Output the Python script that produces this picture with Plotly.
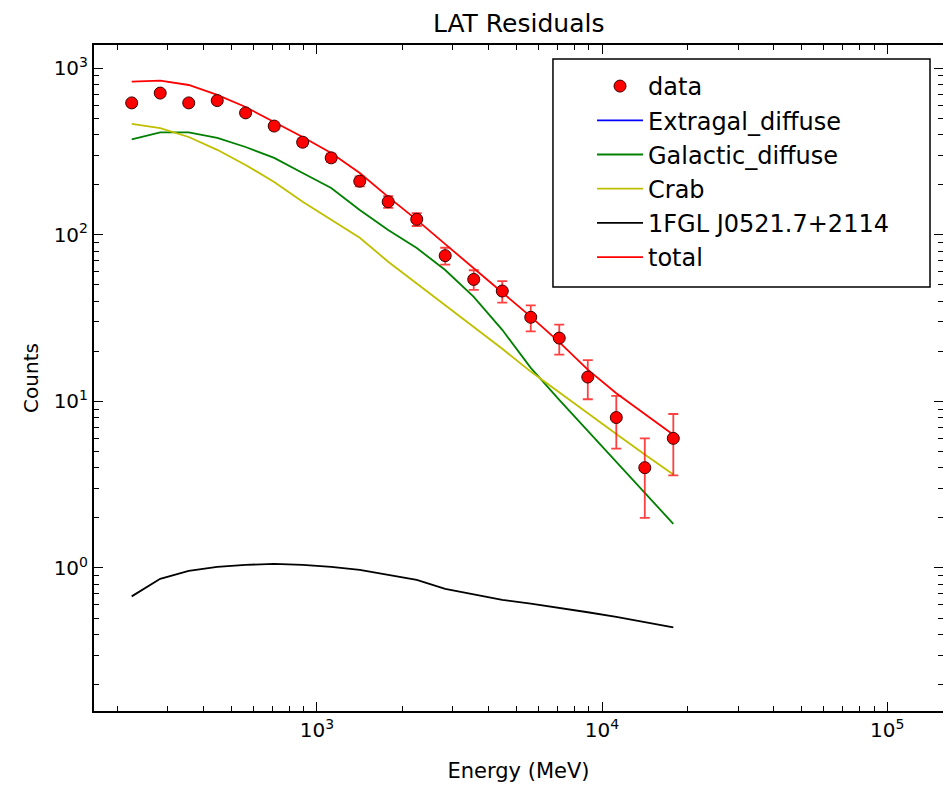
import plotly.graph_objects as go

# bin centres (MeV)
energy = [224, 282, 355, 447, 562, 708, 891, 1122, 1413, 1778,
          2239, 2818, 3548, 4467, 5623, 7079, 8913, 11220, 14125, 17783]

# observed counts and their errors
counts = [620, 710, 620, 640, 540, 450, 360, 290, 210, 158,
          124, 75, 54, 46, 32, 24, 14, 8, 4, 6]
count_err = [25, 27, 25, 25, 23, 21, 19, 17, 14.5, 12.6,
             11, 8.7, 7.3, 6.8, 5.7, 4.9, 3.7, 2.8, 2.0, 2.4]

# model components
extragal = [0] * 20  # not visible on the plot
galactic = [375, 413, 413, 382, 337, 290, 235, 191, 141, 107,
            83.4, 61.5, 42.4, 26.9, 15.9, 10.2, 6.65, 4.34, 2.83, 1.84]
crab = [464, 438, 387, 324, 263, 208, 158, 123, 96, 69,
        51, 37.9, 27.8, 20.7, 15.1, 11.3, 8.45, 6.38, 4.80, 3.64]
src_1fgl = [0.675, 0.860, 0.961, 1.015, 1.044, 1.058, 1.044, 1.015, 0.974, 0.909,
            0.848, 0.749, 0.695, 0.644, 0.61, 0.577, 0.542, 0.509, 0.475, 0.44]
total = [832, 843, 794, 692, 586, 476, 387, 310, 235, 169,
         123, 88, 63, 45.6, 32.3, 22.7, 15.5, 11.2, 8.4, 6.3]

x_ticks = [1e3, 1e4, 1e5]
x_ticklabels = ['10<sup>3</sup>', '10<sup>4</sup>', '10<sup>5</sup>']
y_ticks = [1, 10, 100, 1000]
y_ticklabels = ['10<sup>0</sup>', '10<sup>1</sup>', '10<sup>2</sup>', '10<sup>3</sup>']

# minor log ticks (2..9 per decade)
x_minor = [m * 10 ** e for e in (2, 3, 4, 5) for m in range(2, 10)]
y_minor = [m * 10 ** e for e in (-1, 0, 1, 2, 3) for m in range(2, 10)]

X_RANGE = [2.218, 5.196]
Y_RANGE = [-0.859, 3.14]

FONT = 'DejaVu Sans'

fig = go.Figure()

models = [
    ('Extragal_diffuse', extragal, 'rgb(0,0,255)', 2),
    ('Galactic_diffuse', galactic, 'rgb(0,128,0)', 3),
    ('Crab', crab, 'rgb(191,191,0)', 4),
    ('1FGL J0521.7+2114', src_1fgl, 'rgb(0,0,0)', 5),
    ('total', total, 'rgb(255,0,0)', 6),
]
for name, vals, color, rank in models:
    # the (empty) extragalactic trace carries the minor-tick overlay axes
    axes = dict(xaxis='x2', yaxis='y2') if name == 'Extragal_diffuse' else {}
    fig.add_trace(go.Scatter(
        x=energy, y=vals, name=name, mode='lines',
        line=dict(color=color, width=1.8),
        legendrank=rank, **axes
    ))

fig.add_trace(go.Scatter(
    x=energy, y=counts, name='data', mode='markers',
    marker=dict(color='red', size=12, line=dict(color='rgb(60,0,0)', width=1)),
    error_y=dict(type='data', array=count_err, color='rgba(255,0,0,0.75)',
                 thickness=1.8, width=5),
    legendrank=1
))

axis_common = dict(
    type='log',
    automargin=False,
    showgrid=False,
    zeroline=False,
    showline=True,
    linecolor='black',
    linewidth=2,
    mirror='allticks',
    ticks='inside',
    ticklen=9,
    tickwidth=1.2,
    tickcolor='black',
    tickfont=dict(family=FONT, size=20, color='black'),
)
minor_common = dict(
    type='log',
    automargin=False,
    showgrid=False,
    zeroline=False,
    showline=False,
    mirror='allticks',
    ticks='inside',
    ticklen=5,
    tickwidth=1,
    tickcolor='black',
    showticklabels=False,
)

fig.update_layout(
    xaxis=dict(
        range=X_RANGE, tickvals=x_ticks, ticktext=x_ticklabels,
        title=dict(text='Energy (MeV)', font=dict(family=FONT, size=21, color='black'), standoff=22),
        **axis_common
    ),
    yaxis=dict(
        range=Y_RANGE, tickvals=y_ticks, ticktext=y_ticklabels,
        title=dict(text='Counts', font=dict(family=FONT, size=20, color='black'), standoff=10),
        **axis_common
    ),
    xaxis2=dict(overlaying='x', anchor='y2', range=X_RANGE, tickvals=x_minor, **minor_common),
    yaxis2=dict(overlaying='y', anchor='x2', range=Y_RANGE, tickvals=y_minor, **minor_common),
)

# legend frame (wider than plotly's own legend box)
fig.add_shape(
    type='rect', xref='paper', yref='paper',
    x0=0.5406, x1=0.9847, y0=0.6366, y1=0.979,
    line=dict(color='black', width=1.5), fillcolor='white', layer='above'
)

fig.update_layout(
    width=951, height=786,
    margin=dict(l=86, r=16, t=37, b=83),
    paper_bgcolor='white',
    plot_bgcolor='white',
    font=dict(family=FONT, color='black'),
    title=dict(text='LAT Residuals', x=0.537, xanchor='center', y=0.981, yanchor='middle',
               font=dict(family=FONT, size=25, color='black')),
    showlegend=True,
    legend=dict(
        x=0.5442, y=0.9715, xanchor='left', yanchor='top',
        bgcolor='rgba(0,0,0,0)', borderwidth=0,
        font=dict(family=FONT, size=24, color='black'),
        itemwidth=46, indentation=36, tracegroupgap=0,
    ),
)

fig.write_html("out.html")
